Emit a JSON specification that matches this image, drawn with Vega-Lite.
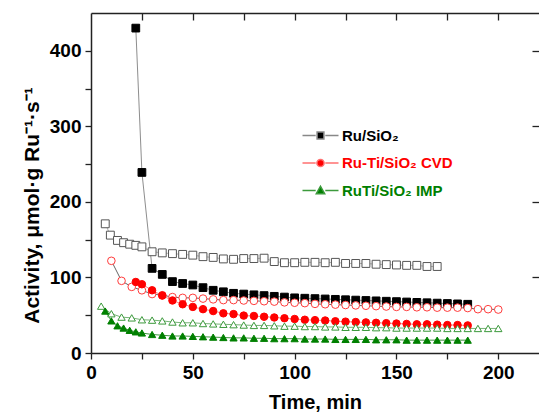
{
"$schema": "https://vega.github.io/schema/vega-lite/v6.json",
"width": 448, "height": 340,
"autosize": "none",
"padding": {"left": 91, "top": 13, "right": 0, "bottom": 64},
"background": "white",
"config": {"view": {"stroke": null}, "font": "Liberation Sans",
 "axis": {"labelFont": "Liberation Sans", "titleFont": "Liberation Sans", "domainColor": "#222", "tickColor": "#222", "domainWidth": 1.5, "tickWidth": 1.3, "grid": false, "labelFontWeight": "bold", "titleFontWeight": "bold", "labelColor": "black", "titleColor": "black", "labelFontSize": 19, "titleFontSize": 21, "labelFlush": false, "labelOverlap": false}},
"data": {"values": [
{"series":"Ru/SiO₂ open","time":7,"activity":171},{"series":"Ru/SiO₂ open","time":9.5,"activity":156},{"series":"Ru/SiO₂ open","time":13,"activity":149},{"series":"Ru/SiO₂ open","time":16,"activity":146},{"series":"Ru/SiO₂ open","time":19,"activity":144},{"series":"Ru/SiO₂ open","time":22,"activity":142.5},{"series":"Ru/SiO₂ open","time":25,"activity":140.5},{"series":"Ru/SiO₂ open","time":30,"activity":134},{"series":"Ru/SiO₂ open","time":35,"activity":132.5},{"series":"Ru/SiO₂ open","time":40,"activity":131.5},{"series":"Ru/SiO₂ open","time":45,"activity":130.5},{"series":"Ru/SiO₂ open","time":50,"activity":129.5},{"series":"Ru/SiO₂ open","time":55,"activity":127.5},{"series":"Ru/SiO₂ open","time":60,"activity":126.5},{"series":"Ru/SiO₂ open","time":65,"activity":124.5},{"series":"Ru/SiO₂ open","time":70,"activity":124},{"series":"Ru/SiO₂ open","time":75,"activity":125},{"series":"Ru/SiO₂ open","time":80,"activity":125},{"series":"Ru/SiO₂ open","time":85,"activity":125.5},{"series":"Ru/SiO₂ open","time":90,"activity":121},{"series":"Ru/SiO₂ open","time":95,"activity":119.5},{"series":"Ru/SiO₂ open","time":100,"activity":119.5},{"series":"Ru/SiO₂ open","time":105,"activity":120},{"series":"Ru/SiO₂ open","time":110,"activity":120},{"series":"Ru/SiO₂ open","time":115,"activity":119.5},{"series":"Ru/SiO₂ open","time":120,"activity":120},{"series":"Ru/SiO₂ open","time":125,"activity":118.5},{"series":"Ru/SiO₂ open","time":130,"activity":118.5},{"series":"Ru/SiO₂ open","time":135,"activity":118.5},{"series":"Ru/SiO₂ open","time":140,"activity":117.5},{"series":"Ru/SiO₂ open","time":145,"activity":117},{"series":"Ru/SiO₂ open","time":150,"activity":116.5},{"series":"Ru/SiO₂ open","time":155,"activity":116},{"series":"Ru/SiO₂ open","time":160,"activity":116},{"series":"Ru/SiO₂ open","time":165,"activity":114.5},{"series":"Ru/SiO₂ open","time":170,"activity":114.5},
{"series":"Ru/SiO₂","time":22,"activity":430},{"series":"Ru/SiO₂","time":25,"activity":239},{"series":"Ru/SiO₂","time":30,"activity":112},{"series":"Ru/SiO₂","time":35,"activity":104},{"series":"Ru/SiO₂","time":40,"activity":94.5},{"series":"Ru/SiO₂","time":45,"activity":92},{"series":"Ru/SiO₂","time":50,"activity":90},{"series":"Ru/SiO₂","time":55,"activity":86.5},{"series":"Ru/SiO₂","time":60,"activity":83},{"series":"Ru/SiO₂","time":65,"activity":81},{"series":"Ru/SiO₂","time":70,"activity":79},{"series":"Ru/SiO₂","time":75,"activity":78},{"series":"Ru/SiO₂","time":80,"activity":77},{"series":"Ru/SiO₂","time":85,"activity":76},{"series":"Ru/SiO₂","time":90,"activity":75},{"series":"Ru/SiO₂","time":95,"activity":74},{"series":"Ru/SiO₂","time":100,"activity":73},{"series":"Ru/SiO₂","time":105,"activity":72.5},{"series":"Ru/SiO₂","time":110,"activity":72},{"series":"Ru/SiO₂","time":115,"activity":71.5},{"series":"Ru/SiO₂","time":120,"activity":71},{"series":"Ru/SiO₂","time":125,"activity":70.5},{"series":"Ru/SiO₂","time":130,"activity":70},{"series":"Ru/SiO₂","time":135,"activity":69.5},{"series":"Ru/SiO₂","time":140,"activity":69},{"series":"Ru/SiO₂","time":145,"activity":68.5},{"series":"Ru/SiO₂","time":150,"activity":68},{"series":"Ru/SiO₂","time":155,"activity":67.5},{"series":"Ru/SiO₂","time":160,"activity":67},{"series":"Ru/SiO₂","time":165,"activity":66.5},{"series":"Ru/SiO₂","time":170,"activity":66},{"series":"Ru/SiO₂","time":175,"activity":65.5},{"series":"Ru/SiO₂","time":180,"activity":65},{"series":"Ru/SiO₂","time":185,"activity":64.5},
{"series":"Ru-Ti/SiO₂ CVD open","time":10,"activity":122},{"series":"Ru-Ti/SiO₂ CVD open","time":15,"activity":95.5},{"series":"Ru-Ti/SiO₂ CVD open","time":20,"activity":87.5},{"series":"Ru-Ti/SiO₂ CVD open","time":25,"activity":83},{"series":"Ru-Ti/SiO₂ CVD open","time":30,"activity":78},{"series":"Ru-Ti/SiO₂ CVD open","time":35,"activity":76.5},{"series":"Ru-Ti/SiO₂ CVD open","time":40,"activity":74},{"series":"Ru-Ti/SiO₂ CVD open","time":45,"activity":73},{"series":"Ru-Ti/SiO₂ CVD open","time":50,"activity":73},{"series":"Ru-Ti/SiO₂ CVD open","time":55,"activity":72},{"series":"Ru-Ti/SiO₂ CVD open","time":60,"activity":71},{"series":"Ru-Ti/SiO₂ CVD open","time":65,"activity":70},{"series":"Ru-Ti/SiO₂ CVD open","time":70,"activity":70},{"series":"Ru-Ti/SiO₂ CVD open","time":75,"activity":69.5},{"series":"Ru-Ti/SiO₂ CVD open","time":80,"activity":69},{"series":"Ru-Ti/SiO₂ CVD open","time":85,"activity":68.5},{"series":"Ru-Ti/SiO₂ CVD open","time":90,"activity":68},{"series":"Ru-Ti/SiO₂ CVD open","time":95,"activity":67},{"series":"Ru-Ti/SiO₂ CVD open","time":100,"activity":66.5},{"series":"Ru-Ti/SiO₂ CVD open","time":105,"activity":66},{"series":"Ru-Ti/SiO₂ CVD open","time":110,"activity":65},{"series":"Ru-Ti/SiO₂ CVD open","time":115,"activity":64.5},{"series":"Ru-Ti/SiO₂ CVD open","time":120,"activity":64},{"series":"Ru-Ti/SiO₂ CVD open","time":125,"activity":63.5},{"series":"Ru-Ti/SiO₂ CVD open","time":130,"activity":63},{"series":"Ru-Ti/SiO₂ CVD open","time":135,"activity":62.5},{"series":"Ru-Ti/SiO₂ CVD open","time":140,"activity":62},{"series":"Ru-Ti/SiO₂ CVD open","time":145,"activity":61.5},{"series":"Ru-Ti/SiO₂ CVD open","time":150,"activity":61},{"series":"Ru-Ti/SiO₂ CVD open","time":155,"activity":61},{"series":"Ru-Ti/SiO₂ CVD open","time":160,"activity":60.5},{"series":"Ru-Ti/SiO₂ CVD open","time":165,"activity":60.5},{"series":"Ru-Ti/SiO₂ CVD open","time":170,"activity":60},{"series":"Ru-Ti/SiO₂ CVD open","time":175,"activity":60},{"series":"Ru-Ti/SiO₂ CVD open","time":180,"activity":60},{"series":"Ru-Ti/SiO₂ CVD open","time":185,"activity":59.5},{"series":"Ru-Ti/SiO₂ CVD open","time":190,"activity":58},{"series":"Ru-Ti/SiO₂ CVD open","time":195,"activity":58},{"series":"Ru-Ti/SiO₂ CVD open","time":200,"activity":57.5},
{"series":"Ru-Ti/SiO₂ CVD","time":22,"activity":94},{"series":"Ru-Ti/SiO₂ CVD","time":25,"activity":91},{"series":"Ru-Ti/SiO₂ CVD","time":30,"activity":83},{"series":"Ru-Ti/SiO₂ CVD","time":35,"activity":76},{"series":"Ru-Ti/SiO₂ CVD","time":40,"activity":69.5},{"series":"Ru-Ti/SiO₂ CVD","time":45,"activity":64.5},{"series":"Ru-Ti/SiO₂ CVD","time":50,"activity":61},{"series":"Ru-Ti/SiO₂ CVD","time":55,"activity":58},{"series":"Ru-Ti/SiO₂ CVD","time":60,"activity":55.5},{"series":"Ru-Ti/SiO₂ CVD","time":65,"activity":52.5},{"series":"Ru-Ti/SiO₂ CVD","time":70,"activity":51.5},{"series":"Ru-Ti/SiO₂ CVD","time":75,"activity":49.5},{"series":"Ru-Ti/SiO₂ CVD","time":80,"activity":49},{"series":"Ru-Ti/SiO₂ CVD","time":85,"activity":48},{"series":"Ru-Ti/SiO₂ CVD","time":90,"activity":47},{"series":"Ru-Ti/SiO₂ CVD","time":95,"activity":46},{"series":"Ru-Ti/SiO₂ CVD","time":100,"activity":45},{"series":"Ru-Ti/SiO₂ CVD","time":105,"activity":44},{"series":"Ru-Ti/SiO₂ CVD","time":110,"activity":43.5},{"series":"Ru-Ti/SiO₂ CVD","time":115,"activity":43},{"series":"Ru-Ti/SiO₂ CVD","time":120,"activity":42},{"series":"Ru-Ti/SiO₂ CVD","time":125,"activity":41.5},{"series":"Ru-Ti/SiO₂ CVD","time":130,"activity":41},{"series":"Ru-Ti/SiO₂ CVD","time":135,"activity":40.5},{"series":"Ru-Ti/SiO₂ CVD","time":140,"activity":40},{"series":"Ru-Ti/SiO₂ CVD","time":145,"activity":39.5},{"series":"Ru-Ti/SiO₂ CVD","time":150,"activity":39},{"series":"Ru-Ti/SiO₂ CVD","time":155,"activity":38.5},{"series":"Ru-Ti/SiO₂ CVD","time":160,"activity":38},{"series":"Ru-Ti/SiO₂ CVD","time":165,"activity":38},{"series":"Ru-Ti/SiO₂ CVD","time":170,"activity":37.5},{"series":"Ru-Ti/SiO₂ CVD","time":175,"activity":37},{"series":"Ru-Ti/SiO₂ CVD","time":180,"activity":37},{"series":"Ru-Ti/SiO₂ CVD","time":185,"activity":36.5},
{"series":"RuTi/SiO₂ IMP open","time":5,"activity":62},{"series":"RuTi/SiO₂ IMP open","time":10,"activity":52},{"series":"RuTi/SiO₂ IMP open","time":15,"activity":47.5},{"series":"RuTi/SiO₂ IMP open","time":20,"activity":46.5},{"series":"RuTi/SiO₂ IMP open","time":25,"activity":44},{"series":"RuTi/SiO₂ IMP open","time":30,"activity":43.5},{"series":"RuTi/SiO₂ IMP open","time":35,"activity":42.5},{"series":"RuTi/SiO₂ IMP open","time":40,"activity":41},{"series":"RuTi/SiO₂ IMP open","time":45,"activity":40},{"series":"RuTi/SiO₂ IMP open","time":50,"activity":40},{"series":"RuTi/SiO₂ IMP open","time":55,"activity":39},{"series":"RuTi/SiO₂ IMP open","time":60,"activity":38.5},{"series":"RuTi/SiO₂ IMP open","time":65,"activity":38},{"series":"RuTi/SiO₂ IMP open","time":70,"activity":37.5},{"series":"RuTi/SiO₂ IMP open","time":75,"activity":37},{"series":"RuTi/SiO₂ IMP open","time":80,"activity":36.5},{"series":"RuTi/SiO₂ IMP open","time":85,"activity":36.5},{"series":"RuTi/SiO₂ IMP open","time":90,"activity":36},{"series":"RuTi/SiO₂ IMP open","time":95,"activity":35.5},{"series":"RuTi/SiO₂ IMP open","time":100,"activity":35.5},{"series":"RuTi/SiO₂ IMP open","time":105,"activity":35},{"series":"RuTi/SiO₂ IMP open","time":110,"activity":35},{"series":"RuTi/SiO₂ IMP open","time":115,"activity":34.5},{"series":"RuTi/SiO₂ IMP open","time":120,"activity":34.5},{"series":"RuTi/SiO₂ IMP open","time":125,"activity":34},{"series":"RuTi/SiO₂ IMP open","time":130,"activity":34},{"series":"RuTi/SiO₂ IMP open","time":135,"activity":34},{"series":"RuTi/SiO₂ IMP open","time":140,"activity":33.5},{"series":"RuTi/SiO₂ IMP open","time":145,"activity":33.5},{"series":"RuTi/SiO₂ IMP open","time":150,"activity":33},{"series":"RuTi/SiO₂ IMP open","time":155,"activity":33},{"series":"RuTi/SiO₂ IMP open","time":160,"activity":33},{"series":"RuTi/SiO₂ IMP open","time":165,"activity":33},{"series":"RuTi/SiO₂ IMP open","time":170,"activity":33},{"series":"RuTi/SiO₂ IMP open","time":175,"activity":32.5},{"series":"RuTi/SiO₂ IMP open","time":180,"activity":32.5},{"series":"RuTi/SiO₂ IMP open","time":185,"activity":32.5},{"series":"RuTi/SiO₂ IMP open","time":190,"activity":32.5},{"series":"RuTi/SiO₂ IMP open","time":195,"activity":32.5},{"series":"RuTi/SiO₂ IMP open","time":200,"activity":32.5},
{"series":"RuTi/SiO₂ IMP","time":7,"activity":55.5},{"series":"RuTi/SiO₂ IMP","time":10,"activity":42.5},{"series":"RuTi/SiO₂ IMP","time":13,"activity":36},{"series":"RuTi/SiO₂ IMP","time":16,"activity":33},{"series":"RuTi/SiO₂ IMP","time":19,"activity":30},{"series":"RuTi/SiO₂ IMP","time":22,"activity":28},{"series":"RuTi/SiO₂ IMP","time":25,"activity":26.5},{"series":"RuTi/SiO₂ IMP","time":30,"activity":24.5},{"series":"RuTi/SiO₂ IMP","time":35,"activity":23.5},{"series":"RuTi/SiO₂ IMP","time":40,"activity":22.5},{"series":"RuTi/SiO₂ IMP","time":45,"activity":22.5},{"series":"RuTi/SiO₂ IMP","time":50,"activity":22},{"series":"RuTi/SiO₂ IMP","time":55,"activity":21.5},{"series":"RuTi/SiO₂ IMP","time":60,"activity":21},{"series":"RuTi/SiO₂ IMP","time":65,"activity":20.5},{"series":"RuTi/SiO₂ IMP","time":70,"activity":20},{"series":"RuTi/SiO₂ IMP","time":75,"activity":20},{"series":"RuTi/SiO₂ IMP","time":80,"activity":19.5},{"series":"RuTi/SiO₂ IMP","time":85,"activity":19.5},{"series":"RuTi/SiO₂ IMP","time":90,"activity":19},{"series":"RuTi/SiO₂ IMP","time":95,"activity":19},{"series":"RuTi/SiO₂ IMP","time":100,"activity":19},{"series":"RuTi/SiO₂ IMP","time":105,"activity":18.5},{"series":"RuTi/SiO₂ IMP","time":110,"activity":18.5},{"series":"RuTi/SiO₂ IMP","time":115,"activity":18.5},{"series":"RuTi/SiO₂ IMP","time":120,"activity":18},{"series":"RuTi/SiO₂ IMP","time":125,"activity":18},{"series":"RuTi/SiO₂ IMP","time":130,"activity":18},{"series":"RuTi/SiO₂ IMP","time":135,"activity":18},{"series":"RuTi/SiO₂ IMP","time":140,"activity":17.5},{"series":"RuTi/SiO₂ IMP","time":145,"activity":17.5},{"series":"RuTi/SiO₂ IMP","time":150,"activity":17.5},{"series":"RuTi/SiO₂ IMP","time":155,"activity":17},{"series":"RuTi/SiO₂ IMP","time":160,"activity":17},{"series":"RuTi/SiO₂ IMP","time":165,"activity":17},{"series":"RuTi/SiO₂ IMP","time":170,"activity":17},{"series":"RuTi/SiO₂ IMP","time":175,"activity":17},{"series":"RuTi/SiO₂ IMP","time":180,"activity":17},{"series":"RuTi/SiO₂ IMP","time":185,"activity":17}
]},
"layer": [
 {"mark": {"type": "line", "strokeWidth": 0.9},
  "encoding": {
   "x": {"field": "time", "type": "quantitative", "scale": {"domain": [0, 220], "nice": false, "zero": false},
     "axis": {"orient": "bottom", "values": [0,25,50,75,100,125,150,175,200], "labelExpr": "datum.value % 50 == 0 ? datum.label : ''", "tickSize": 6, "labelPadding": 4, "title": "Time, min", "titlePadding": 10, "titleFontSize": 20}},
   "y": {"field": "activity", "type": "quantitative", "scale": {"domain": [0, 450], "nice": false},
     "axis": {"orient": "left", "values": [0,50,100,150,200,250,300,350,400], "labelExpr": "datum.value % 100 == 0 ? datum.label : ''", "tickSize": 6, "labelPadding": 4, "title": "Activity, μmol·g Ru⁻¹·s⁻¹", "titleX": -53, "titleY": 192, "titleAngle": -90, "titleAlign": "center", "titleBaseline": "alphabetic"}},
   "detail": {"field": "series"},
   "stroke": {"field": "series", "type": "nominal", "legend": null,
     "scale": {"domain": ["Ru/SiO₂ open","Ru/SiO₂","Ru-Ti/SiO₂ CVD open","Ru-Ti/SiO₂ CVD","RuTi/SiO₂ IMP open","RuTi/SiO₂ IMP"],
               "range": ["#aaaaaa","#808080","#555555","#ff7070","#66aa66","#2a8a2a"]}}
  }},
 {"mark": {"type": "point", "filled": true, "opacity": 1, "strokeWidth": 1},
  "encoding": {
   "x": {"field": "time", "type": "quantitative", "scale": {"domain": [0, 220], "nice": false, "zero": false},
     "axis": {"orient": "top", "values": [25,50,75,100,125,150,175,200], "labels": false, "tickSize": -7, "title": null}},
   "y": {"field": "activity", "type": "quantitative", "scale": {"domain": [0, 450], "nice": false},
     "axis": {"orient": "right", "values": [100,200,300,400], "labels": false, "tickSize": -7, "domain": false, "title": null}},
   "shape": {"field": "series", "type": "nominal", "legend": null,
     "scale": {"domain": ["Ru/SiO₂ open","Ru/SiO₂","Ru-Ti/SiO₂ CVD open","Ru-Ti/SiO₂ CVD","RuTi/SiO₂ IMP open","RuTi/SiO₂ IMP"],
               "range": ["square","square","circle","circle","triangle-up","triangle-up"]}},
   "size": {"field": "series", "type": "nominal", "legend": null,
     "scale": {"domain": ["Ru/SiO₂ open","Ru/SiO₂","Ru-Ti/SiO₂ CVD open","Ru-Ti/SiO₂ CVD","RuTi/SiO₂ IMP open","RuTi/SiO₂ IMP"],
               "range": [62,52,62,62,78,78]}},
   "fill": {"field": "series", "type": "nominal", "legend": null,
     "scale": {"domain": ["Ru/SiO₂ open","Ru/SiO₂","Ru-Ti/SiO₂ CVD open","Ru-Ti/SiO₂ CVD","RuTi/SiO₂ IMP open","RuTi/SiO₂ IMP"],
               "range": ["#ffffff","#000000","#ffffff","#ff0000","#ffffff","#008000"]}},
   "stroke": {"field": "series", "type": "nominal", "legend": null,
     "scale": {"domain": ["Ru/SiO₂ open","Ru/SiO₂","Ru-Ti/SiO₂ CVD open","Ru-Ti/SiO₂ CVD","RuTi/SiO₂ IMP open","RuTi/SiO₂ IMP"],
               "range": ["#555555","#000000","#ff3b3b","#ff0000","#3c9a3c","#008000"]}}
  }},
 {"transform": [{"filter": "false"}],
  "mark": {"type": "point", "filled": true, "opacity": 1, "strokeWidth": 1.2},
  "encoding": {
   "shape": {"field": "series", "type": "nominal",
     "scale": {"domain": ["Ru/SiO₂","Ru-Ti/SiO₂ CVD","RuTi/SiO₂ IMP"],
               "range": ["M-4.5,0H-1.2M1.2,0H4.5M-0.85,-0.85H0.85V0.85H-0.85Z","M-4.5,0H-1.2M1.2,0H4.5M-0.9,0A0.9,0.9,0,1,1,0.9,0A0.9,0.9,0,1,1,-0.9,0Z","M-4.5,0H-1.2M1.2,0H4.5M0,-1.05L1.05,0.8H-1.05Z"]},
     "legend": {"title": null, "orient": "none", "legendX": 222, "legendY": 115, "labelFontSize": 15, "labelFontWeight": "bold", "labelFont": "Liberation Sans", "labelOffset": 14, "symbolSize": 64, "rowPadding": 11.5, "padding": 0, "labelColor": {"expr": "datum.value == 'Ru/SiO₂' ? '#000000' : datum.value == 'Ru-Ti/SiO₂ CVD' ? '#ff0000' : '#008000'"}}},
   "fill": {"field": "series", "type": "nominal",
     "scale": {"domain": ["Ru/SiO₂","Ru-Ti/SiO₂ CVD","RuTi/SiO₂ IMP"], "range": ["#000000","#ff0000","#008000"]},
     "legend": {"title": null, "orient": "none", "legendX": 222, "legendY": 115, "labelFontSize": 15, "labelFontWeight": "bold", "labelFont": "Liberation Sans", "labelOffset": 14, "symbolSize": 64, "rowPadding": 11.5, "padding": 0, "labelColor": {"expr": "datum.value == 'Ru/SiO₂' ? '#000000' : datum.value == 'Ru-Ti/SiO₂ CVD' ? '#ff0000' : '#008000'"}}},
   "stroke": {"field": "series", "type": "nominal",
     "scale": {"domain": ["Ru/SiO₂","Ru-Ti/SiO₂ CVD","RuTi/SiO₂ IMP"], "range": ["#888888","#ff7070","#3c9a3c"]},
     "legend": {"title": null, "orient": "none", "legendX": 222, "legendY": 115, "labelFontSize": 15, "labelFontWeight": "bold", "labelFont": "Liberation Sans", "labelOffset": 14, "symbolSize": 64, "rowPadding": 11.5, "padding": 0, "labelColor": {"expr": "datum.value == 'Ru/SiO₂' ? '#000000' : datum.value == 'Ru-Ti/SiO₂ CVD' ? '#ff0000' : '#008000'"}}}
  }}
],
"resolve": {"axis": {"x": "independent", "y": "independent"}, "scale": {"shape": "independent", "fill": "independent", "stroke": "independent", "size": "independent"}, "legend": {"shape": "independent", "fill": "independent", "stroke": "independent", "size": "independent"}}
}
